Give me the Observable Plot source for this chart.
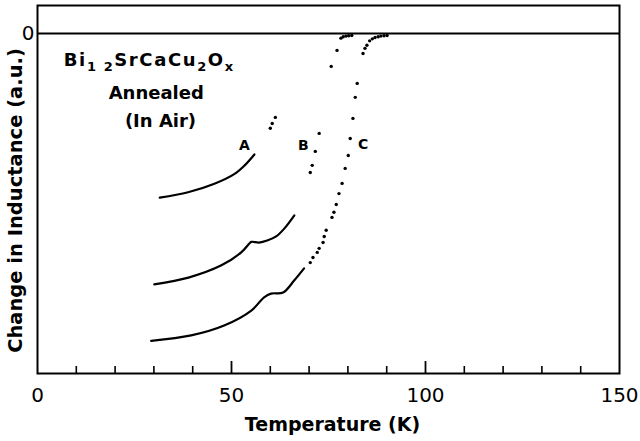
<!DOCTYPE html>
<html><head><meta charset="utf-8">
<script src="https://cdn.jsdelivr.net/npm/d3@7"></script>
<script src="https://cdn.jsdelivr.net/npm/@observablehq/plot@0.6"></script>
<style>body{margin:0;background:#fff}</style>
</head><body><div id="chart"></div>
<script>
// Curve A
const aLineT = [31.5, 38.8, 45.6, 50.8, 53.4, 55.9];
const aLineV = [-4.83, -4.67, -4.42, -4.13, -3.88, -3.56];
const aDotT = [60.0, 60.5, 61.3];
const aDotV = [-2.79, -2.65, -2.47];
// Curve B
const bLineT = [30.1, 38.9, 47.4, 52.5, 54.6, 55.1, 57.1, 59.2, 61.5, 63.6, 66.2];
const bLineV = [-7.38, -7.18, -6.82, -6.44, -6.18, -6.13, -6.15, -6.09, -5.97, -5.74, -5.35];
const bDotT = [70.3, 70.8, 71.6, 72.6, 75.7, 77.2, 78.2, 78.8, 79.5, 80.2, 81.0];
const bDotV = [-4.09, -3.88, -3.47, -2.94, -0.97, -0.50, -0.14, -0.10, -0.08, -0.07, -0.06];
// Curve C
const cLineT = [29.3, 39.6, 48.1, 55.1, 58.4, 60.2, 63.3, 66.2, 68.7];
const cLineV = [-9.04, -8.88, -8.59, -8.15, -7.76, -7.65, -7.62, -7.26, -6.91];
const cDotT = [70.3, 71.0, 72.1, 72.6, 73.6, 73.9, 74.4, 75.9, 76.4, 77.0, 77.7, 78.5, 79.3, 80.1, 80.6, 81.3, 81.9, 82.4, 83.9, 84.4, 84.9, 85.6, 86.3, 87.0, 87.8, 88.5, 89.3, 90.1];
const cDotV = [-6.74, -6.59, -6.44, -6.32, -6.15, -5.97, -5.79, -5.41, -5.26, -5.03, -4.71, -4.41, -3.97, -3.59, -3.09, -2.50, -1.88, -1.47, -0.59, -0.44, -0.35, -0.22, -0.16, -0.12, -0.10, -0.08, -0.07, -0.06];

// Axis ticks
const xTickLabels = [0, 50, 100, 150];
const xMinorTicks = [10, 20, 30, 40, 60, 70, 80, 90, 110, 120, 130, 140];
const xMajorTicks = [50, 100];
const yTickLabels = [0];

// Annotations
const curveLabels = ["A", "B", "C"];
const curveLabelT = [53.3, 68.5, 83.9];
const curveLabelV = [-3.29, -3.29, -3.26];
const noteLines = ["Bi12SrCaCu2Ox", "Annealed", "(In Air)"];
const noteT = [28.8, 30.6, 31.7];
const noteV = [-0.79, -1.76, -2.59];

const zip = (T, V) => T.map((t, i) => ({t, v: V[i]}));
const lines = [zip(aLineT, aLineV), zip(bLineT, bLineV), zip(cLineT, cLineV)];
const dots = [...zip(aDotT, aDotV), ...zip(bDotT, bDotV), ...zip(cDotT, cDotV)];
const labels = curveLabels.map((s, i) => ({s, t: curveLabelT[i], v: curveLabelV[i]}));
const notes = noteLines.map((s, i) => ({s, t: noteT[i], v: noteV[i]}));

const font = "DejaVu Sans";
const chart = Plot.plot({
  width: 640, height: 441,
  marginLeft: 37, marginRight: 21, marginTop: 5, marginBottom: 68,
  style: {fontFamily: font, background: "#fff", color: "#000"},
  x: {domain: [0, 150]},
  y: {domain: [-10, 0.82]},
  marks: [
    Plot.frame({stroke: "#000", strokeWidth: 2}),
    Plot.ruleY([0], {stroke: "#000", strokeWidth: 2}),
    Plot.tickX(xMinorTicks, {x: d => d, stroke: "#000", strokeWidth: 1.6, insetTop: 361}),
    Plot.tickX(xMajorTicks, {x: d => d, stroke: "#000", strokeWidth: 1.8, insetTop: 356}),
    Plot.axisX(xTickLabels, {tickSize: 0, tickPadding: 14, fontSize: 20, label: null}),
    Plot.axisY(yTickLabels, {tickSize: 0, tickPadding: 3, fontSize: 20, label: null, tickFormat: d => String(d)}),
    ...lines.map(L => Plot.line(L, {x: "t", y: "v", curve: "catmull-rom", stroke: "#000", strokeWidth: 2.2})),
    Plot.dot(dots, {x: "t", y: "v", r: 1.7, fill: "#000", stroke: null}),
    Plot.text(labels, {x: "t", y: "v", text: "s", fontSize: 14, fontWeight: "bold", lineAnchor: "middle", textAnchor: "middle"}),
    Plot.text(notes, {x: "t", y: "v", text: "s", fontSize: 18, fontWeight: "bold", lineAnchor: "middle", textAnchor: "middle"}),
    Plot.text(["Temperature (K)"], {frameAnchor: "bottom", dy: 51, dx: 4, fontSize: 19, fontWeight: "bold", lineAnchor: "middle", textAnchor: "middle"}),
    Plot.text(["Change in Inductance (a.u.)"], {frameAnchor: "left", dx: -22, dy: 11, rotate: -90, fontSize: 19.5, fontWeight: "bold", lineAnchor: "middle", textAnchor: "middle"})
  ]
});
// render chemical formula with subscripts
d3.select(chart).selectAll("text").filter(function() { return this.textContent === noteLines[0]; })
  .each(function() {
    const t = d3.select(this).attr("letter-spacing", 1.6);
    t.text(null);
    const parts = [["Bi", false], ["1 2", true], ["SrCaCu", false], ["2", true], ["O", false], ["x", true]];
    for (const [s, sub] of parts) {
      t.append("tspan").attr("font-size", sub ? 13 : null).attr("dy", sub ? 5 : (s === "Bi" ? 0 : -5)).text(s);
    }
  });
document.getElementById("chart").appendChild(chart);
</script>
</body></html>
